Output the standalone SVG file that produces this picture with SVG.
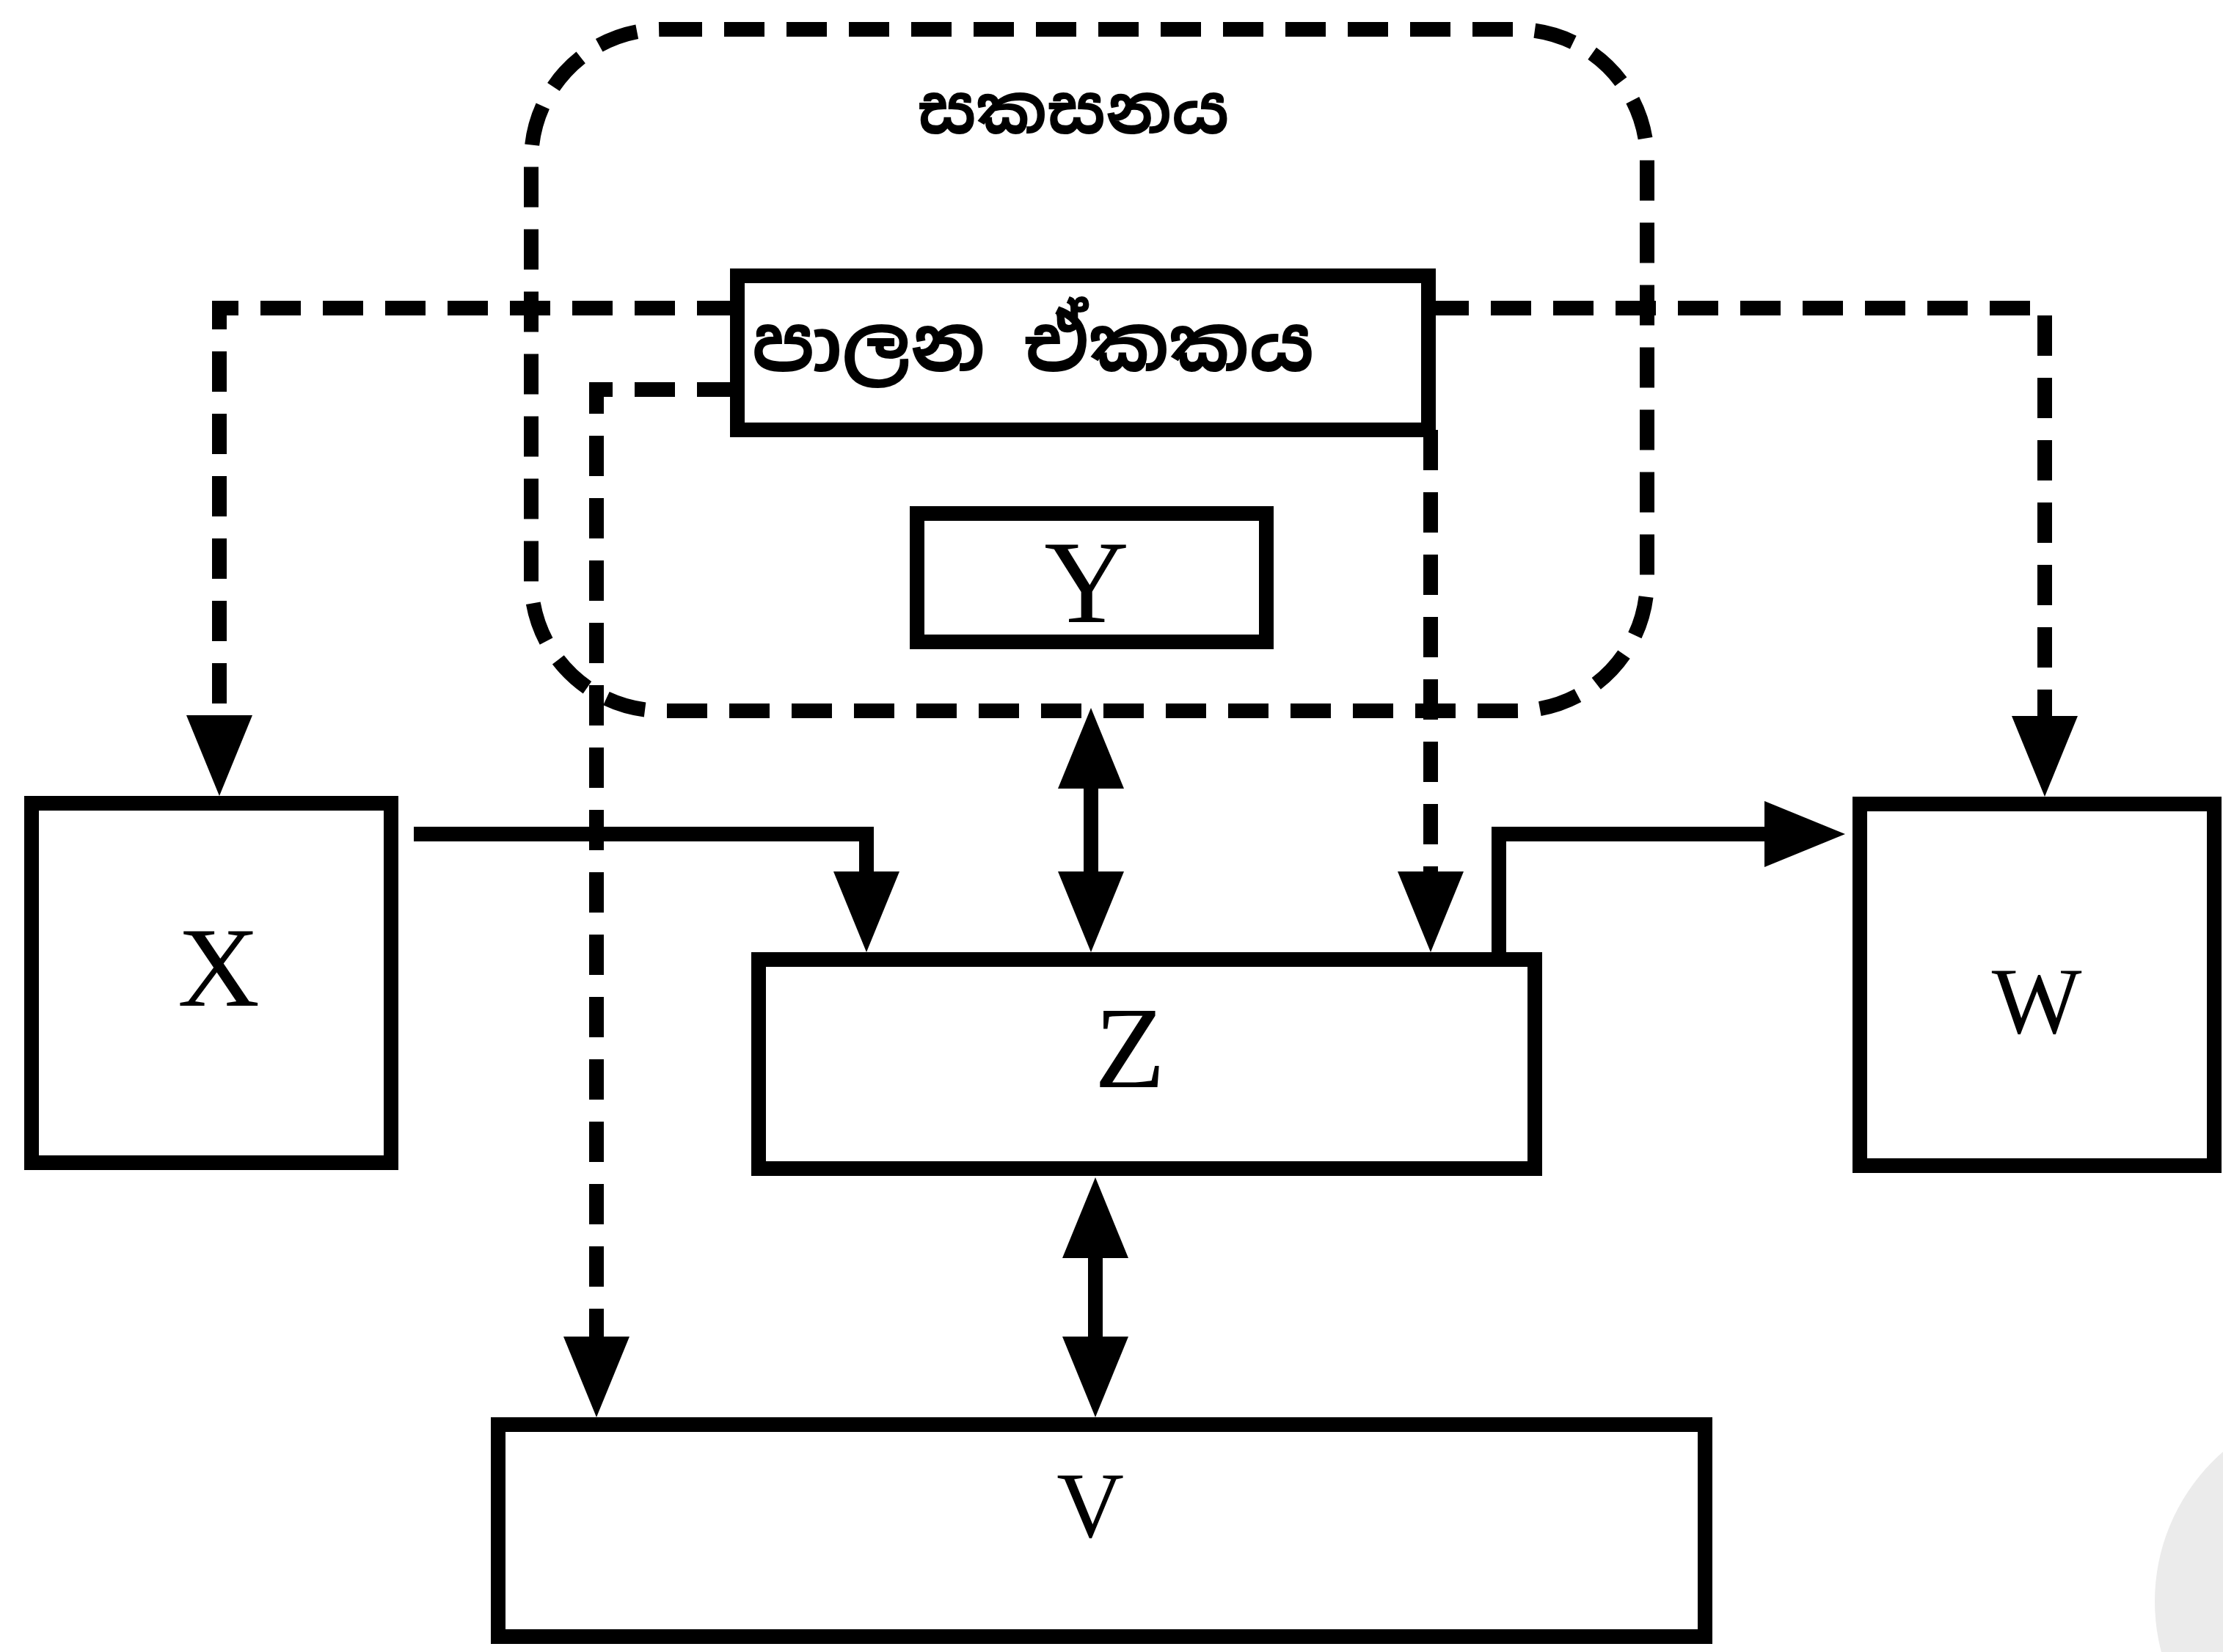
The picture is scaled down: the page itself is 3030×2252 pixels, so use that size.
<svg xmlns="http://www.w3.org/2000/svg" width="3030" height="2252" viewBox="0 0 3030 2252">
  <style>
    .box { fill: #ffffff; stroke: #000000; stroke-width: 20; }
    .dash { fill: none; stroke: #000000; stroke-width: 20; stroke-dasharray: 55 30; }
    .solid { fill: none; stroke: #000000; stroke-width: 20; }
    .lbl { font-family: "Liberation Serif", "Times New Roman", serif; fill: #000000; text-anchor: middle; }
    .si { font-family: "Noto Sans Sinhala", "Noto Serif Sinhala", "Iskoola Pota", "Noto Sans", "DejaVu Sans", sans-serif; fill: #000000; text-anchor: middle; font-weight: bold; }
  </style>
  <defs>
    <marker id="arrow" markerUnits="userSpaceOnUse" viewBox="0 0 110 90" refX="0" refY="45" markerWidth="110" markerHeight="90" orient="auto-start-reverse">
      <path d="M0,0 L110,45 L0,90 Z" fill="#000000"/>
    </marker>
  </defs>
  <rect width="3030" height="2252" fill="#ffffff"/>
  <circle cx="3207" cy="2183" r="270" fill="#ebebeb"/>

  <g id="processor">
    <rect class="dash" x="724" y="40" width="1521" height="929" rx="178" ry="178"/>
    <text class="si" x="1463" y="182" font-size="92">සකසනය</text>
  </g>

  <g id="connectors">
    <path class="dash" d="M1005 420 H299 V975" marker-end="url(#arrow)"/>
    <path class="dash" d="M1005 531 H813 V1822" marker-end="url(#arrow)"/>
    <path class="dash" d="M1947 420 H2787 V976" marker-end="url(#arrow)"/>
    <path class="dash" d="M1950 586 V1188" marker-end="url(#arrow)"/>
    <path class="solid" d="M564 1137 H1181 V1188" marker-end="url(#arrow)"/>
    <path class="solid" d="M1487 1075 V1188" marker-start="url(#arrow)" marker-end="url(#arrow)"/>
    <path class="solid" d="M2043 1298 V1137 H2405" marker-end="url(#arrow)"/>
    <path class="solid" d="M1493 1715 V1822" marker-start="url(#arrow)" marker-end="url(#arrow)"/>
  </g>

  <g id="control-unit">
    <rect class="box" x="1005" y="376" width="942" height="210"/>
    <text class="si" x="1408" y="506" font-size="104">පාලන ඒකකය</text>
  </g>

  <g id="node-Y">
    <rect class="box" x="1250" y="700" width="476" height="175"/>
    <text class="lbl" x="1481" y="848" font-size="160">Y</text>
  </g>

  <g id="node-X">
    <rect class="box" x="43" y="1095" width="490" height="490"/>
    <text class="lbl" x="298" y="1371" font-size="155">X</text>
  </g>

  <g id="node-Z">
    <rect class="box" x="1034" y="1308" width="1058" height="285"/>
    <text class="lbl" x="1540" y="1482" font-size="158">Z</text>
  </g>

  <g id="node-W">
    <rect class="box" x="2535" y="1096" width="483" height="493"/>
    <text class="lbl" x="2776" y="1408" font-size="130">W</text>
  </g>

  <g id="node-V">
    <rect class="box" x="679" y="1942" width="1645" height="289"/>
    <text class="lbl" x="1486" y="2095" font-size="127">V</text>
  </g>
</svg>
